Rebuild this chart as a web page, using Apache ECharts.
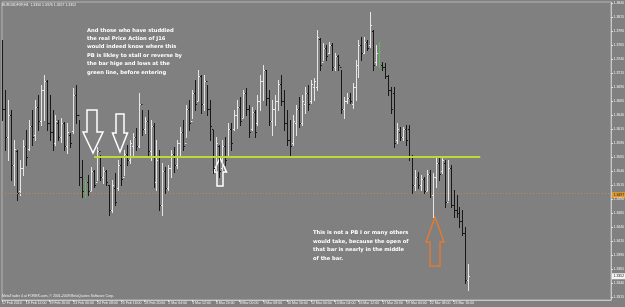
<!DOCTYPE html>
<html><head><meta charset="utf-8">
<script src="https://cdn.jsdelivr.net/npm/echarts@6/dist/echarts.min.js"></script>
<style>html,body{margin:0;padding:0;background:#808080}#c{width:625px;height:307px}</style>
</head><body><div id="c"></div>
<script>
const tickLabels = ['17 Feb 2010','18 Feb 12:00','19 Feb 20:00','23 Feb 00:00','24 Feb 08:00','25 Feb 16:00','28 Feb 20:00','2 Mar 04:00','3 Mar 12:00','4 Mar 20:00','8 Mar 00:00','9 Mar 08:00','10 Mar 16:00','12 Mar 00:00','15 Mar 04:00','16 Mar 12:00','17 Mar 20:00','19 Mar 04:00','22 Mar 08:00','23 Mar 16:00'];
const yTicks = [1.3315,1.3340,1.3365,1.3390,1.3415,1.3440,1.3465,1.3490,1.3515,1.3540,1.3565,1.3590,1.3615,1.3640,1.3665,1.3690,1.3715,1.3740,1.3765,1.3790,1.3815,1.3840];
const opens  = [1.3760,1.3650,1.3600,1.3640,1.3550,1.3575,1.3505,1.3545,1.3585,1.3580,1.3620,1.3605,1.3655,1.3630,1.3685,1.3700,1.3625,1.3610,1.3590,1.3625,1.3600,1.3625,1.3585,1.3605,1.3612,1.3675,1.3640,1.3530,1.3505,1.3520,1.3505,1.3540,1.3520,1.3575,1.3530,1.3540,1.3515,1.3470,1.3510,1.3510,1.3550,1.3530,1.3570,1.3560,1.3585,1.3600,1.3585,1.3660,1.3615,1.3630,1.3575,1.3620,1.3520,1.3565,1.3480,1.3540,1.3510,1.3545,1.3570,1.3550,1.3590,1.3610,1.3590,1.3650,1.3630,1.3680,1.3665,1.3710,1.3660,1.3700,1.3650,1.3615,1.3545,1.3585,1.3545,1.3585,1.3565,1.3615,1.3615,1.3640,1.3655,1.3635,1.3680,1.3650,1.3615,1.3645,1.3625,1.3665,1.3700,1.3720,1.3670,1.3630,1.3650,1.3665,1.3695,1.3665,1.3625,1.3595,1.3590,1.3625,1.3650,1.3625,1.3660,1.3680,1.3665,1.3690,1.3690,1.3775,1.3735,1.3760,1.3750,1.3765,1.3725,1.3745,1.3725,1.3650,1.3665,1.3670,1.3660,1.3690,1.3730,1.3765,1.3750,1.3770,1.3765,1.3790,1.3735,1.3750,1.3730,1.3725,1.3710,1.3685,1.3680,1.3595,1.3610,1.3600,1.3615,1.3615,1.3565,1.3515,1.3530,1.3515,1.3525,1.3505,1.3535,1.3497,1.3530,1.3555,1.3540,1.3555,1.3485,1.3545,1.3480,1.3470,1.3465,1.3450,1.3430,1.3345];
const highs  = [1.3774,1.3685,1.3667,1.3649,1.3595,1.3577,1.3559,1.3595,1.3613,1.3631,1.3649,1.3667,1.3676,1.3693,1.3711,1.3703,1.3676,1.3649,1.3640,1.3631,1.3634,1.3627,1.3625,1.3607,1.3688,1.3693,1.3631,1.3559,1.3524,1.3533,1.3547,1.3542,1.3582,1.3568,1.3547,1.3542,1.3515,1.3524,1.3536,1.3559,1.3565,1.3577,1.3586,1.3595,1.3607,1.3616,1.3679,1.3649,1.3636,1.3649,1.3631,1.3625,1.3595,1.3577,1.3554,1.3547,1.3550,1.3577,1.3582,1.3595,1.3618,1.3631,1.3658,1.3667,1.3685,1.3703,1.3720,1.3711,1.3711,1.3693,1.3667,1.3613,1.3600,1.3586,1.3595,1.3600,1.3625,1.3625,1.3649,1.3667,1.3672,1.3685,1.3688,1.3658,1.3654,1.3649,1.3676,1.3711,1.3729,1.3720,1.3685,1.3667,1.3676,1.3703,1.3711,1.3685,1.3649,1.3631,1.3640,1.3658,1.3672,1.3676,1.3690,1.3693,1.3703,1.3706,1.3791,1.3777,1.3768,1.3765,1.3770,1.3768,1.3750,1.3747,1.3720,1.3672,1.3679,1.3679,1.3697,1.3738,1.3774,1.3779,1.3779,1.3774,1.3824,1.3791,1.3765,1.3770,1.3734,1.3732,1.3711,1.3690,1.3690,1.3625,1.3618,1.3618,1.3622,1.3622,1.3568,1.3542,1.3538,1.3533,1.3529,1.3542,1.3542,1.3536,1.3565,1.3565,1.3565,1.3559,1.3559,1.3550,1.3506,1.3497,1.3475,1.3470,1.3440,1.3374];
const lows   = [1.3631,1.3577,1.3559,1.3524,1.3515,1.3488,1.3497,1.3533,1.3550,1.3577,1.3586,1.3595,1.3613,1.3622,1.3631,1.3613,1.3595,1.3577,1.3586,1.3595,1.3591,1.3577,1.3572,1.3582,1.3607,1.3625,1.3515,1.3493,1.3493,1.3497,1.3506,1.3511,1.3524,1.3524,1.3518,1.3515,1.3461,1.3466,1.3479,1.3506,1.3515,1.3533,1.3550,1.3554,1.3565,1.3577,1.3582,1.3604,1.3607,1.3565,1.3559,1.3511,1.3506,1.3470,1.3461,1.3500,1.3506,1.3529,1.3538,1.3545,1.3565,1.3577,1.3600,1.3613,1.3634,1.3649,1.3667,1.3643,1.3649,1.3640,1.3595,1.3536,1.3542,1.3529,1.3542,1.3550,1.3565,1.3577,1.3613,1.3616,1.3622,1.3636,1.3640,1.3600,1.3613,1.3600,1.3622,1.3649,1.3667,1.3658,1.3622,1.3604,1.3622,1.3649,1.3658,1.3613,1.3586,1.3568,1.3586,1.3604,1.3618,1.3622,1.3643,1.3649,1.3661,1.3667,1.3685,1.3720,1.3738,1.3738,1.3750,1.3720,1.3720,1.3720,1.3643,1.3634,1.3661,1.3661,1.3652,1.3667,1.3708,1.3738,1.3750,1.3756,1.3761,1.3720,1.3729,1.3725,1.3720,1.3706,1.3676,1.3643,1.3582,1.3590,1.3595,1.3595,1.3586,1.3559,1.3500,1.3506,1.3509,1.3506,1.3500,1.3506,1.3493,1.3458,1.3511,1.3524,1.3536,1.3475,1.3488,1.3475,1.3458,1.3458,1.3440,1.3425,1.3340,1.3327];
const closes = [1.3650,1.3600,1.3640,1.3550,1.3580,1.3500,1.3545,1.3585,1.3565,1.3620,1.3600,1.3655,1.3630,1.3685,1.3700,1.3625,1.3610,1.3590,1.3630,1.3600,1.3625,1.3585,1.3610,1.3590,1.3675,1.3640,1.3530,1.3505,1.3520,1.3505,1.3540,1.3515,1.3575,1.3530,1.3540,1.3520,1.3470,1.3515,1.3485,1.3550,1.3525,1.3570,1.3560,1.3590,1.3600,1.3585,1.3660,1.3615,1.3630,1.3575,1.3620,1.3520,1.3560,1.3480,1.3540,1.3510,1.3545,1.3570,1.3550,1.3590,1.3610,1.3585,1.3650,1.3625,1.3680,1.3660,1.3710,1.3660,1.3700,1.3650,1.3620,1.3545,1.3590,1.3540,1.3585,1.3560,1.3615,1.3590,1.3640,1.3655,1.3630,1.3680,1.3650,1.3610,1.3645,1.3610,1.3665,1.3700,1.3720,1.3670,1.3630,1.3650,1.3665,1.3695,1.3665,1.3625,1.3595,1.3585,1.3630,1.3650,1.3625,1.3665,1.3680,1.3660,1.3695,1.3700,1.3780,1.3730,1.3760,1.3745,1.3765,1.3725,1.3745,1.3730,1.3650,1.3665,1.3670,1.3665,1.3690,1.3730,1.3765,1.3750,1.3770,1.3760,1.3800,1.3730,1.3750,1.3755,1.3725,1.3710,1.3685,1.3650,1.3590,1.3615,1.3600,1.3615,1.3595,1.3565,1.3515,1.3530,1.3515,1.3525,1.3505,1.3535,1.3500,1.3530,1.3555,1.3535,1.3560,1.3485,1.3545,1.3480,1.3470,1.3465,1.3450,1.3430,1.3345,1.3352];
const greenBars = [28,127];
const greenLevel = 1.3565;
const hLineLevel = 1.3497;
const lastPrice = 1.3352;
const slotCount = 206;

const slots = [];
for (let i = 0; i < slotCount; i++) slots.push(String(i));
const barData = opens.map((o, i) => [i, o, highs[i], lows[i], closes[i]]);

function renderItem(params, api) {
  const i = api.value(0);
  const pH = api.coord([i, api.value(2)]);
  const pL = api.coord([i, api.value(3)]);
  const pO = api.coord([i, api.value(1)]);
  const pC = api.coord([i, api.value(4)]);
  const x = Math.round(pH[0]) + 0.5;
  const up = api.value(4) >= api.value(1);
  const col = greenBars.indexOf(i) >= 0 ? '#5fb85a' : (up ? '#e6e6e6' : '#181818');
  const yo = Math.round(pO[1]) + 0.5, yc = Math.round(pC[1]) + 0.5;
  return {type: 'group', children: [
    {type: 'line', shape: {x1: x, y1: Math.round(pH[1]), x2: x, y2: Math.round(pL[1]) + 1}, style: {stroke: col, lineWidth: 1}},
    {type: 'line', shape: {x1: x - 1.5, y1: yo, x2: x, y2: yo}, style: {stroke: col, lineWidth: 1}},
    {type: 'line', shape: {x1: x, y1: yc, x2: x + 1.5, y2: yc}, style: {stroke: col, lineWidth: 1}}
  ]};
}

const smallFont = 'Liberation Sans';
const smallSize = 3.5;
const chart = echarts.init(document.getElementById('c'), null, {renderer: 'canvas'});
chart.setOption({
  animation: false,
  backgroundColor: '#808080',
  grid: {left: 2, right: 14, top: 2, bottom: 7, outerBoundsMode: 'none', containLabel: false, show: true, borderColor: '#b4b4b4', borderWidth: 1, backgroundColor: '#808080'},
  xAxis: {
    type: 'category', data: slots, boundaryGap: false,
    axisLine: {show: true, lineStyle: {color: '#c8c8c8', width: 1}},
    axisTick: {show: true, length: 2, lineStyle: {color: '#e0e0e0'}, interval: (idx) => idx % 8 === 0 && idx / 8 < tickLabels.length},
    axisLabel: {show: true, margin: 1.5, fontSize: smallSize, fontFamily: smallFont, color: '#f2f2f2', align: 'left',
      interval: (idx) => idx % 8 === 0 && idx / 8 < tickLabels.length,
      formatter: (v, idx) => tickLabels[idx / 8] || ''},
    splitLine: {show: false}
  },
  yAxis: {
    type: 'value', position: 'right', min: 1.33096, max: 1.38418, scale: true,
    axisLine: {show: true, lineStyle: {color: '#c8c8c8', width: 1}},
    axisTick: {show: true, length: 2, inside: false, customValues: yTicks, lineStyle: {color: '#e0e0e0'}},
    axisLabel: {show: true, margin: 2.5, fontSize: smallSize, fontFamily: smallFont, color: '#f2f2f2', customValues: yTicks,
      formatter: (v) => v.toFixed(4)},
    splitLine: {show: false}
  },
  series: [{
    type: 'custom', renderItem: renderItem, data: barData,
    encode: {x: 0, y: [1, 2, 3, 4]}, clip: true,
    markLine: {
      silent: true, symbol: 'none', animation: false, label: {show: false},
      data: [
        {yAxis: hLineLevel, lineStyle: {color: '#c08a50', type: [1, 2], width: 1, opacity: 1}},
        [{coord: ['31', greenLevel], lineStyle: {color: '#bcd83a', width: 2, type: 'solid'}},
         {coord: ['161', greenLevel]}]
      ]
    }
  }]
});

// price boxes on the right scale, positioned through the axis
function priceBox(value, bg, id) {
  const p = chart.convertToPixel({gridIndex: 0}, ['0', value]);
  return {type: 'group', id: id, x: 611, y: p[1], children: [
    {type: 'rect', shape: {x: 1, y: -3, width: 13, height: 6}, style: {fill: bg}},
    {type: 'text', x: 2.5, y: 0, style: {text: value.toFixed(4), fill: '#202020', font: smallSize + 'px Liberation Sans', verticalAlign: 'middle', align: 'left'}}
  ]};
}
const overlay = [
  {type: 'text', id: 't1', left: 2, top: 3, style: {text: 'EURUSDFXF,H4  1.3350 1.3376 1.3327 1.3352', fill: '#f0f0f0', font: smallSize + 'px Liberation Sans'}},
  {type: 'text', id: 't2', left: 2, top: 294.5, style: {text: 'MetaTrader 4 at FOREX.com, \u00a9 2001-2009 MetaQuotes Software Corp.', fill: '#f0f0f0', font: smallSize + 'px Liberation Sans'}},
  {type: 'text', id: 't3', left: 87, top: 26, style: {text: 'And those who have studdied\nthe real Price Action of J16\nwould indeed know where this\nPB is likley to stall or reverse by\nthe bar hige and lows at the\ngreen line, before entering', fill: '#ffffff', font: 'bold 5.2px DejaVu Sans', lineHeight: 8.4}},
  {type: 'text', id: 't4', left: 313, top: 228, style: {text: 'This is not a PB I or many others\nwould take, because the open of\nthat bar is nearly in the middle\nof the bar.', fill: '#ffffff', font: 'bold 5.2px DejaVu Sans', lineHeight: 8.8}},
  {type: 'polygon', id: 'a1', shape: {points: [[87,110],[97,110],[97,132],[103,132],[93,153],[83,132],[87,132]]}, style: {fill: 'none', stroke: '#ffffff', lineWidth: 1.5}},
  {type: 'polygon', id: 'a2', shape: {points: [[116,114],[124,114],[124,133],[127.5,133],[120,152],[112.5,133],[116,133]]}, style: {fill: 'none', stroke: '#ffffff', lineWidth: 1.5}},
  {type: 'polygon', id: 'a3', shape: {points: [[220,158],[226.5,172],[223,172],[223,186],[217,186],[217,172],[213.5,172]]}, style: {fill: 'none', stroke: '#ffffff', lineWidth: 1.5}},
  {type: 'polygon', id: 'a4', shape: {points: [[435,217],[444,242],[440,242],[440,266],[430,266],[430,242],[426,242]]}, style: {fill: 'none', stroke: '#e07a35', lineWidth: 1.5}},
  priceBox(hLineLevel, '#e09a30', 'boxA'),
  priceBox(lastPrice, '#f4f4f4', 'boxB')
];
chart.setOption({graphic: overlay});
</script></body></html>
